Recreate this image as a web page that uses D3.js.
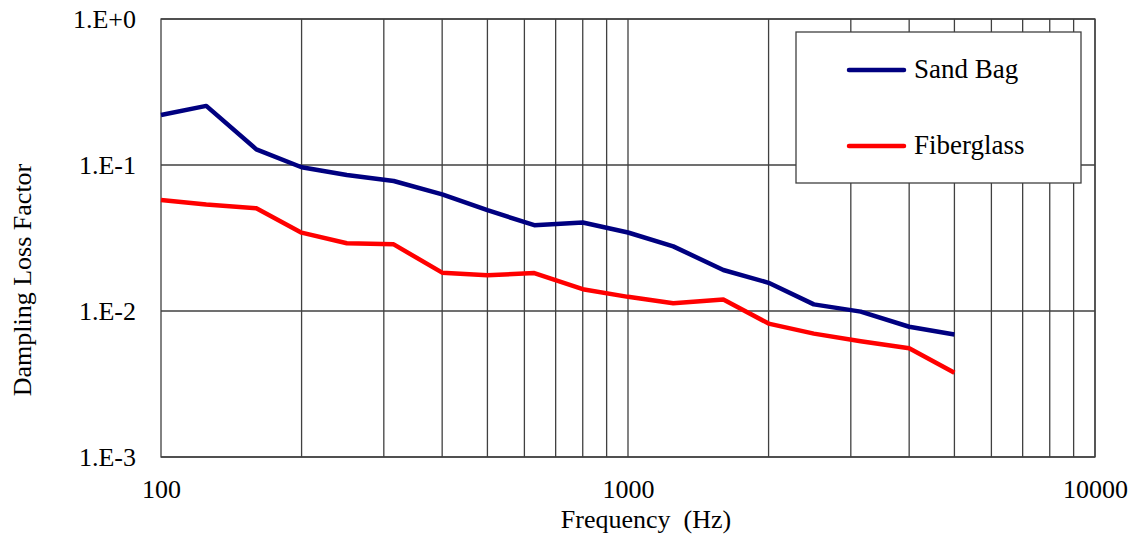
<!DOCTYPE html>
<html>
<head>
<meta charset="utf-8">
<script src="https://cdn.jsdelivr.net/npm/d3@7"></script>
<style>
  body { margin: 0; background: #fff; }
  text { font-family: "Liberation Serif", "Times New Roman", serif; fill: #000; }
</style>
</head>
<body>
<div id="chart"></div>
<script>
// one-third octave band centre frequencies (Hz)
const frequencies = [100, 125, 160, 200, 250, 315, 400, 500, 630, 800, 1000, 1250, 1600, 2000, 2500, 3150, 4000, 5000];
const sandBag = [0.220, 0.254, 0.128, 0.0965, 0.0855, 0.0777, 0.063, 0.049, 0.0387, 0.0404, 0.0345, 0.0277, 0.0191, 0.0156, 0.0111, 0.0099, 0.0078, 0.0069];
const fiberglass = [0.0575, 0.0536, 0.0505, 0.0344, 0.0291, 0.0286, 0.0183, 0.0176, 0.0182, 0.0141, 0.0125, 0.0113, 0.0120, 0.0082, 0.0070, 0.0062, 0.00555, 0.00378];
const seriesNames = ["Sand Bag", "Fiberglass"];
const xTickLabels = [100, 1000, 10000];
const yTickLabels = [1, 0.1, 0.01, 0.001];

const width = 1141, height = 539;
const margin = {top: 19, right: 46, bottom: 82, left: 161};

const svg = d3.select("#chart").append("svg")
    .attr("width", width)
    .attr("height", height);

const x = d3.scaleLog()
    .domain([100, 10000])
    .range([margin.left, width - margin.right]);
const y = d3.scaleLog()
    .domain([0.001, 1])
    .range([height - margin.bottom, margin.top]);

const gridColor = "#404040";

// vertical grid lines at every minor log tick
const xGrid = [];
for (let d = 100; d < 10000; d *= 10) {
    for (let m = 2; m <= 10; m++) xGrid.push(d * m);
}
svg.append("g")
    .selectAll("line")
    .data(xGrid)
    .join("line")
    .attr("x1", d => x(d)).attr("x2", d => x(d))
    .attr("y1", y(0.001)).attr("y2", y(1))
    .attr("stroke", gridColor)
    .attr("stroke-width", 1.3);

// horizontal grid lines at decades
svg.append("g")
    .selectAll("line")
    .data(yTickLabels)
    .join("line")
    .attr("x1", x(100)).attr("x2", x(10000))
    .attr("y1", d => y(d)).attr("y2", d => y(d))
    .attr("stroke", gridColor)
    .attr("stroke-width", 1.3);

// plot frame
svg.append("rect")
    .attr("x", x(100)).attr("y", y(1))
    .attr("width", x(10000) - x(100))
    .attr("height", y(0.001) - y(1))
    .attr("fill", "none")
    .attr("stroke", gridColor)
    .attr("stroke-width", 1.3);

// x tick labels
const xAxis = d3.axisBottom(x)
    .tickValues(xTickLabels)
    .tickSize(0)
    .tickPadding(23)
    .tickFormat(d3.format("d"));
const gx = svg.append("g")
    .attr("transform", `translate(0,${y(0.001)})`)
    .call(xAxis);
gx.select(".domain").remove();
gx.selectAll("text")
    .style("font-family", '"Liberation Serif", serif')
    .style("font-size", "26px");

// y tick labels
const yAxis = d3.axisLeft(y)
    .tickValues(yTickLabels)
    .tickSize(0)
    .tickPadding(25)
    .tickFormat(d => "1.E" + (d >= 1 ? "+0" : String(Math.round(Math.log10(d)))));
const gy = svg.append("g")
    .attr("transform", `translate(${x(100)},0)`)
    .call(yAxis);
gy.select(".domain").remove();
gy.selectAll("text")
    .style("font-family", '"Liberation Serif", serif')
    .style("font-size", "26px");

// axis titles
svg.append("text")
    .attr("x", 646)
    .attr("y", 528)
    .attr("text-anchor", "middle")
    .style("font-size", "26px")
    .style("white-space", "pre")
    .text("Frequency  (Hz)");

svg.append("text")
    .attr("transform", "translate(31,280) rotate(-90)")
    .attr("text-anchor", "middle")
    .style("font-size", "26px")
    .text("Dampling Loss Factor");

// series lines
const colors = ["#000080", "#ff0000"];
const allSeries = [sandBag, fiberglass];
const line = d3.line()
    .x((d, i) => x(frequencies[i]))
    .y(d => y(d));

svg.append("g")
    .selectAll("path")
    .data(allSeries)
    .join("path")
    .attr("d", line)
    .attr("fill", "none")
    .attr("stroke", (_, i) => colors[i])
    .attr("stroke-width", 4.5)
    .attr("stroke-linejoin", "round");

// legend
const legend = svg.append("g");
legend.append("rect")
    .attr("x", 796).attr("y", 32)
    .attr("width", 285).attr("height", 151)
    .attr("fill", "#fff")
    .attr("stroke", gridColor)
    .attr("stroke-width", 1.3);

const legendRows = [70, 146];
seriesNames.forEach((name, i) => {
    legend.append("line")
        .attr("x1", 849).attr("x2", 904)
        .attr("y1", legendRows[i]).attr("y2", legendRows[i])
        .attr("stroke", colors[i])
        .attr("stroke-width", 4.5)
        .attr("stroke-linecap", "round");
    legend.append("text")
        .attr("x", 914)
        .attr("y", legendRows[i] + 8)
        .style("font-size", "27px")
        .text(name);
});
</script>
</body>
</html>
